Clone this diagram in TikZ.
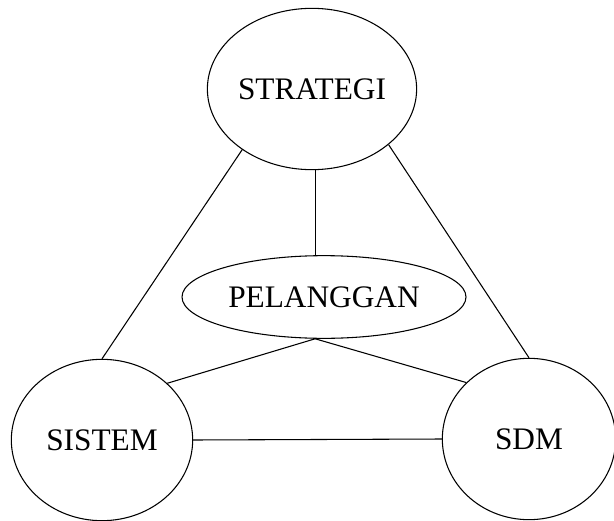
\documentclass[tikz,border=0pt]{standalone}
\usepackage{fontspec}
\setmainfont{Liberation Serif}
\usetikzlibrary{shapes.geometric,calc}

\begin{document}
\begin{tikzpicture}[x=0.75pt,y=-0.75pt,line width=0.8pt,
  main node/.style={ellipse,draw,inner sep=0pt,font=\fontsize{23.5}{28}\selectfont},
  round node/.style={main node,minimum width=131pt,minimum height=121pt}]
  \useasboundingbox (0,0) rectangle (614,521);

  \node[round node] (strategi) at (312,89) {STRATEGI};
  \node[main node,minimum width=213pt,minimum height=62pt] (pelanggan) at (324,297) {PELANGGAN};
  \node[round node,minimum width=136pt] (sistem) at (102,440) {SISTEM};
  \node[round node,minimum width=130pt] (sdm) at (529,439) {SDM};

  \path (strategi.221) edge (sistem.north);
  \path (strategi.324) edge (sdm.north);
  \path (pelanggan.102) edge (pelanggan.102 |- strategi.south);
  \path (pelanggan.258) edge (sistem.41);
  \path (pelanggan.258) edge (sdm.138);
  \path (sistem.east) edge (sdm.west);
\end{tikzpicture}
\end{document}
